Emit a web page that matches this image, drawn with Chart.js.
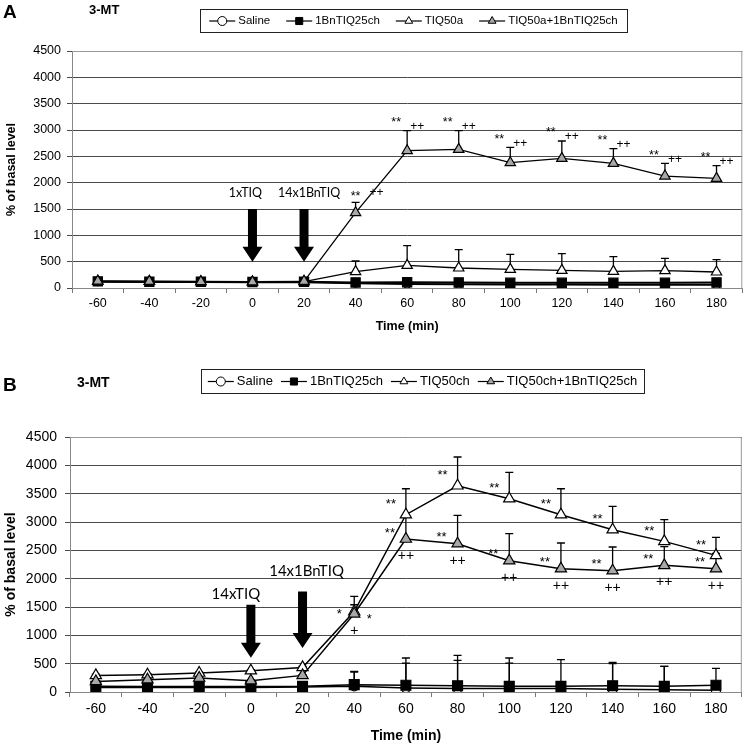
<!DOCTYPE html>
<html>
<head>
<meta charset="utf-8">
<script src="https://cdn.jsdelivr.net/npm/chart.js@4.4.0/dist/chart.umd.min.js"></script>
<style>
  body { margin: 0; background: #fff; }
  .panel { position: absolute; left: 0; width: 750px; }
  #wrapA { top: 0; height: 335px; }
  #wrapB { top: 335px; height: 410px; }
</style>
</head>
<body>
<div class="panel" id="wrapA"><canvas id="chartA" width="750" height="335"></canvas></div>
<div class="panel" id="wrapB"><canvas id="chartB" width="750" height="410"></canvas></div>
<script>
const times = ['-60', '-40', '-20', '0', '20', '40', '60', '80', '100', '120', '140', '160', '180'];

// panel A - 3-MT, single TIQ dose
const legendA = ['Saline', '1BnTIQ25ch', 'TIQ50a', 'TIQ50a+1BnTIQ25ch'];
const salineA = [120, 115, 115, 110, 110, 90, 75, 70, 65, 65, 60, 60, 60];
const salineAErr = [0, 0, 0, 0, 0, 0, 0, 0, 0, 0, 0, 0, 0];
const bnA = [125, 120, 120, 115, 120, 105, 110, 105, 100, 100, 100, 100, 105];
const bnAErr = [0, 0, 0, 0, 0, 0, 0, 0, 0, 0, 0, 0, 0];
const tiqA = [125, 125, 120, 115, 120, 310, 430, 380, 354, 335, 316, 329, 304];
const tiqAErr = [0, 0, 0, 0, 0, 203, 373, 347, 285, 317, 279, 234, 234];
const comboA = [130, 125, 120, 115, 127, 1430, 2607, 2633, 2379, 2462, 2367, 2126, 2082];
const comboAErr = [0, 0, 0, 0, 0, 197, 380, 354, 292, 329, 278, 241, 240];
const starsA = ['', '', '', '', '', '**', '**', '**', '**', '**', '**', '**', '**'];
const plusA = ['', '', '', '', '', '++', '++', '++', '++', '++', '++', '++', '++'];
const doseLabelsA = ['1xTIQ', '14x1BnTIQ'];
const doseTimesA = ['0', '20'];
const doseFromA = [1500, 1500];
const doseToA = [500, 500];

// panel B - 3-MT, chronic TIQ
const legendB = ['Saline', '1BnTIQ25ch', 'TIQ50ch', 'TIQ50ch+1BnTIQ25ch'];
const salineB = [80, 80, 80, 80, 90, 100, 70, 60, 60, 60, 50, 40, 30];
const salineBErr = [5, 5, 5, 5, 5, 250, 441, 498, 451, 0, 449, 412, 0];
const bnB = [100, 95, 95, 95, 100, 130, 120, 110, 100, 100, 110, 100, 120];
const bnBErr = [10, 10, 10, 10, 10, 234, 480, 536, 500, 470, 412, 352, 296];
const tiqB = [293, 305, 335, 376, 434, 1420, 3129, 3640, 3411, 3129, 2864, 2658, 2411];
const tiqBErr = [20, 20, 20, 20, 20, 267, 458, 507, 465, 458, 412, 383, 318];
const comboB = [187, 217, 247, 199, 293, 1380, 2700, 2617, 2317, 2176, 2141, 2235, 2176];
const comboBErr = [15, 15, 15, 15, 15, 160, 411, 500, 477, 453, 418, 330, 270];
const tiqStarsB = ['', '', '', '', '', '*', '**', '**', '**', '**', '**', '**', '**'];
const comboStarsB = ['', '', '', '', '', '*', '**', '**', '**', '**', '**', '**', '**'];
const comboPlusB = ['', '', '', '', '', '+', '++', '++', '++', '++', '++', '++', '++'];
const doseLabelsB = ['14xTIQ', '14x1BnTIQ'];
const doseTimesB = ['0', '20'];
const doseFromB = [1540, 1775];
const doseToB = [605, 776];

const FONT = "'Liberation Sans', Arial, sans-serif";
const GRAY = '#a8a8a8';
const markers = [
    { style: 'circle', fill: '#fff' },
    { style: 'rect', fill: '#000' },
    { style: 'triangle', fill: '#fff' },
    { style: 'triangle', fill: GRAY }
];

function series(label, data, m, radius, width, order) {
    return {
        label: label,
        data: data,
        borderColor: '#000',
        borderWidth: width,
        pointStyle: m.style,
        pointRadius: radius,
        pointBackgroundColor: m.fill,
        pointBorderColor: '#000',
        pointBorderWidth: 1.2,
        tension: 0,
        fill: false,
        order: order
    };
}

function drawLegend(ctx, box, labels, size) {
    ctx.save();
    ctx.strokeStyle = '#222';
    ctx.lineWidth = 1;
    ctx.strokeRect(box.x + 0.5, box.y + 0.5, box.w, box.h);
    ctx.font = size + 'px ' + FONT;
    ctx.textBaseline = 'middle';
    const symW = 26, gap = box.gap;
    let total = 0;
    labels.forEach(l => total += symW + 3 + ctx.measureText(l).width);
    total += gap * (labels.length - 1);
    let x = box.x + (box.w - total) / 2;
    const cy = box.y + box.h / 2 + 0.5;
    labels.forEach((l, i) => {
        ctx.strokeStyle = '#000';
        ctx.lineWidth = 1.2;
        ctx.beginPath();
        ctx.moveTo(x, cy);
        ctx.lineTo(x + symW, cy);
        ctx.stroke();
        ctx.fillStyle = markers[i].fill;
        ctx.lineWidth = 1;
        Chart.helpers.drawPoint(ctx, { pointStyle: markers[i].style, radius: i === 1 ? 5 : 4.5, rotation: 0, borderWidth: 1 }, x + symW / 2, cy);
        ctx.fillStyle = '#000';
        ctx.textAlign = 'left';
        ctx.fillText(l, x + symW + 3, cy);
        x += symW + 3 + ctx.measureText(l).width + gap;
    });
    ctx.restore();
}

function drawArrow(ctx, x, yTop, yTip, headLen) {
    ctx.beginPath();
    ctx.moveTo(x - 4.5, yTop);
    ctx.lineTo(x + 4.5, yTop);
    ctx.lineTo(x + 4.5, yTip - headLen);
    ctx.lineTo(x + 10, yTip - headLen);
    ctx.lineTo(x, yTip);
    ctx.lineTo(x - 10, yTip - headLen);
    ctx.lineTo(x - 4.5, yTip - headLen);
    ctx.closePath();
    ctx.fill();
}

function figurePlugin(p) {
    return {
        id: 'figure',
        beforeDatasetsDraw(chart) {
            const ctx = chart.ctx, xs = chart.scales.x, ys = chart.scales.y;
            ctx.save();
            ctx.strokeStyle = '#000';
            ctx.lineWidth = 1.3;
            p.errors.forEach(e => {
                e.values.forEach((v, i) => {
                    if (!e.err[i]) return;
                    const x = xs.getPixelForValue(i);
                    const y0 = ys.getPixelForValue(v);
                    const y1 = ys.getPixelForValue(v + e.err[i]);
                    ctx.beginPath();
                    ctx.moveTo(x, y0);
                    ctx.lineTo(x, y1);
                    ctx.moveTo(x - 4, y1);
                    ctx.lineTo(x + 4, y1);
                    ctx.stroke();
                });
            });
            ctx.restore();
        },
        afterDraw(chart) {
            const ctx = chart.ctx, xs = chart.scales.x, ys = chart.scales.y;
            const a = chart.chartArea;
            ctx.save();
            // frame on the top and right of the plot
            ctx.strokeStyle = '#999';
            ctx.lineWidth = 1;
            ctx.beginPath();
            ctx.moveTo(a.left, a.top + 0.5);
            ctx.lineTo(a.right - 0.5, a.top + 0.5);
            ctx.lineTo(a.right - 0.5, a.bottom);
            ctx.stroke();

            // panel letter and title
            ctx.fillStyle = '#000';
            ctx.textBaseline = 'middle';
            ctx.textAlign = 'left';
            ctx.font = 'bold 19px ' + FONT;
            ctx.fillText(p.letter, 3, p.letterY);
            ctx.font = 'bold ' + p.headSize + 'px ' + FONT;
            ctx.fillText('3-MT', p.headX, p.headY);

            drawLegend(ctx, p.legendBox, p.legend, p.legendSize);

            // dosing arrows
            ctx.fillStyle = '#000';
            ctx.textAlign = 'center';
            ctx.font = p.doseSize + "px Lato, 'Open Sans', sans-serif";
            p.doses.labels.forEach((l, i) => {
                const x = xs.getPixelForValue(times.indexOf(p.doses.times[i]));
                const yTop = ys.getPixelForValue(p.doses.from[i]);
                const yTip = ys.getPixelForValue(p.doses.to[i]);
                drawArrow(ctx, x, yTop, yTip, 15);
                ctx.fillText(l, x + p.doses.dx[i], yTop - p.doses.dy[i]);
            });

            p.marks(ctx, xs, ys);
            ctx.restore();
        }
    };
}

function makeChart(id, p) {
    return new Chart(id, {
        type: 'line',
        data: {
            labels: times,
            datasets: p.datasets
        },
        options: {
            responsive: false,
            animation: false,
            events: [],
            layout: { padding: { top: p.top, right: p.right, left: 0, bottom: 0 } },
            plugins: { legend: { display: false }, tooltip: { enabled: false } },
            scales: {
                x: {
                    type: 'category',
                    offset: true,
                    grid: { offset: true, drawOnChartArea: false, drawTicks: true, tickLength: 5, color: '#777' },
                    border: { color: '#888', width: 1 },
                    ticks: { color: '#000', font: { family: FONT, size: p.tickSize }, padding: p.xPad, maxRotation: 0, autoSkip: false },
                    title: {
                        display: true, text: 'Time (min)', color: '#000',
                        font: { family: FONT, size: p.titleSize, weight: 'bold' },
                        padding: { top: 0, bottom: p.xTitlePad }
                    },
                    afterFit: s => { s.height = p.xHeight; }
                },
                y: {
                    min: 0,
                    max: 4500,
                    ticks: { stepSize: 500, color: '#000', font: { family: FONT, size: p.tickSize }, padding: p.yPad, callback: v => String(v) },
                    grid: { color: '#4a4a4a', lineWidth: 1, tickLength: 5 },
                    border: { color: '#888', width: 1 },
                    title: {
                        display: true, text: '% of basal level', color: '#000',
                        font: { family: FONT, size: p.titleSize, weight: 'bold' },
                        padding: { top: p.yTitlePad, bottom: 0 }
                    },
                    afterFit: s => { s.width = p.yWidth; }
                }
            }
        },
        plugins: [figurePlugin(p)]
    });
}

function starText(ctx, text, x, y, size) {
    ctx.font = size + 'px ' + FONT;
    ctx.fillText(text, x, y);
}

makeChart('chartA', {
    top: 51, right: 2, yWidth: 72, xHeight: 47,
    tickSize: 12.5, titleSize: 12.5, xPad: 3, yPad: 6, xTitlePad: 1, yTitlePad: 4,
    letter: 'A', letterY: 13, headX: 89, headY: 10, headSize: 13,
    legend: legendA, legendSize: 11.5,
    legendBox: { x: 200, y: 9, w: 427, h: 23, gap: 16 },
    doseSize: 12.5,
    doses: { labels: doseLabelsA, times: doseTimesA, from: doseFromA, to: doseToA, dx: [-7, 5], dy: [16, 16] },
    datasets: [
        series(legendA[0], salineA, markers[0], 4, 2, 3),
        series(legendA[1], bnA, markers[1], 6.5, 2, 2),
        series(legendA[2], tiqA, markers[2], 6, 1.3, 1),
        series(legendA[3], comboA, markers[3], 6, 1.3, 0)
    ],
    errors: [
        { values: salineA, err: salineAErr },
        { values: bnA, err: bnAErr },
        { values: tiqA, err: tiqAErr },
        { values: comboA, err: comboAErr }
    ],
    marks(ctx, xs, ys) {
        ctx.fillStyle = '#000';
        ctx.textAlign = 'center';
        starsA.forEach((s, i) => {
            if (!s) return;
            const x = xs.getPixelForValue(i);
            const top = ys.getPixelForValue(comboA[i] + comboAErr[i]);
            // on the steep rise the marks sit beside the line instead
            const rising = i > 0 && comboA[i - 1] < comboA[i] / 2;
            if (rising) {
                starText(ctx, s, x, top - 6, 12.5);
                starText(ctx, plusA[i], x + 21, top - 10, 12);
            } else {
                starText(ctx, s, x - 11, top - 8, 12.5);
                starText(ctx, plusA[i], x + 10, top - 4, 12);
            }
        });
    }
});

makeChart('chartB', {
    top: 102, right: 4, yWidth: 70, xHeight: 53,
    tickSize: 14, titleSize: 14, xPad: 4, yPad: 8, xTitlePad: 0, yTitlePad: 3,
    letter: 'B', letterY: 51, headX: 77, headY: 48, headSize: 14,
    legend: legendB, legendSize: 13,
    legendBox: { x: 201, y: 34, w: 443, h: 24, gap: 8 },
    doseSize: 15,
    doses: { labels: doseLabelsB, times: doseTimesB, from: doseFromB, to: doseToB, dx: [-15, 4], dy: [11, 20] },
    datasets: [
        series(legendB[0], salineB, markers[0], 4.5, 1.5, 3),
        series(legendB[1], bnB, markers[1], 7, 1.5, 2),
        series(legendB[2], tiqB, markers[2], 6.5, 1.5, 1),
        series(legendB[3], comboB, markers[3], 6.5, 1.5, 0)
    ],
    errors: [
        { values: salineB, err: salineBErr },
        { values: bnB, err: bnBErr },
        { values: tiqB, err: tiqBErr },
        { values: comboB, err: comboBErr }
    ],
    marks(ctx, xs, ys) {
        ctx.fillStyle = '#000';
        ctx.textAlign = 'center';
        times.forEach((t, i) => {
            const x = xs.getPixelForValue(i);
            const yt = ys.getPixelForValue(tiqB[i]);
            const yc = ys.getPixelForValue(comboB[i]);
            if (tiqStarsB[i] === '*') {
                starText(ctx, tiqStarsB[i], x - 15, yt + 3, 13);
            } else if (tiqStarsB[i]) {
                starText(ctx, tiqStarsB[i], x - 15, yt - 10, 13);
            }
            if (comboStarsB[i] === '*') {
                starText(ctx, comboStarsB[i], x + 15, yc + 6, 13);
            } else if (comboStarsB[i]) {
                starText(ctx, comboStarsB[i], x - 16, yc - 6, 13);
            }
            if (comboPlusB[i]) starText(ctx, comboPlusB[i], x, yc + 17, 14);
        });
    }
});
</script>
</body>
</html>
